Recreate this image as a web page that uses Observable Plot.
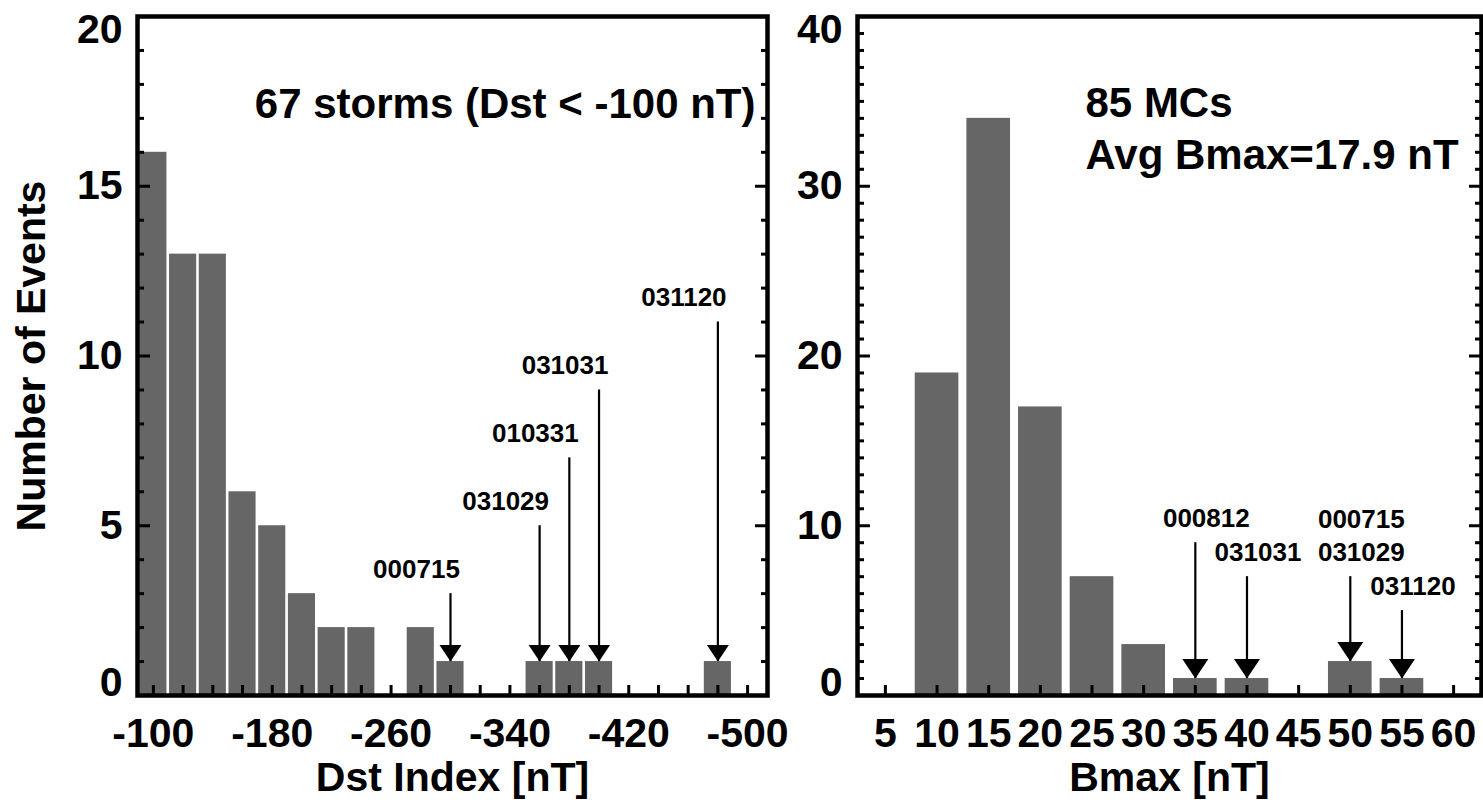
<!DOCTYPE html>
<html><head><meta charset="utf-8">
<script src="https://cdn.jsdelivr.net/npm/d3@7"></script>
<script src="https://cdn.jsdelivr.net/npm/@observablehq/plot@0.6"></script>
<style>
body{margin:0;background:#fff;}
#wrap{position:relative;width:1483px;height:803px;overflow:hidden;background:#fff;}
#left,#right{position:absolute;top:0;}
#left{left:0;z-index:2;} #right{left:780px;z-index:1;}
svg{overflow:visible;}
</style></head><body><div id="wrap"><div id="left"></div><div id="right"></div></div>
<script>
// ---- Left panel: Dst index histogram ----
const dstBins = [-100,-120,-140,-160,-180,-200,-220,-240,-260,-280,-300,-320,-340,-360,-380,-400,-420,-440,-460,-480,-500];
const dstCounts = [16,13,13,6,5,3,2,2,0,2,1,0,0,1,1,1,0,0,0,1,0];
const dstTickLabels = [-100,-180,-260,-340,-420,-500];
const dstYTicks = [0,5,10,15,20];
const dstEvents = ["000715","031029","010331","031031","031120"];
const dstEventValues = [-300,-360,-380,-400,-480];
const dstArrowTops = [3,5,7,9,11];
const dstArrowTips = [1,1,1,1,1];

// ---- Right panel: Bmax histogram ----
const bBins = [5,10,15,20,25,30,35,40,45,50,55,60];
const bCounts = [0,19,34,17,7,3,1,1,0,2,1,0];
const bYTicks = [0,10,20,30,40];
const bEvents = ["000812","031031","000715\n031029","031120"];
const bEventValues = [35,40,50,55];
const bArrowTops = [9,7,7,5];
const bArrowTips = [1,1,2,1];

const FONT = "'Liberation Sans', Arial, Helvetica, sans-serif";
const BAR = "#666666";

const triangle = {draw(ctx, size) {
  const r = Math.sqrt(size / Math.PI);
  ctx.moveTo(0, 0); ctx.lineTo(-r, -1.5 * r); ctx.lineTo(r, -1.5 * r); ctx.closePath();
}};

function yTickMarks(all, majors, minorLen, majorLen) {
  const minors = all.filter(v => !majors.includes(v));
  const o = {fill: "none", label: null, strokeWidth: 3};
  return [
    Plot.axisY({...o, anchor: "left", ticks: minors, tickSize: minorLen, dx: minorLen}),
    Plot.axisY({...o, anchor: "left", ticks: majors, tickSize: majorLen, dx: majorLen}),
    Plot.axisY({...o, anchor: "right", ticks: minors, tickSize: minorLen, dx: -minorLen}),
    Plot.axisY({...o, anchor: "right", ticks: majors, tickSize: majorLen, dx: -majorLen})
  ];
}
function yTickLabels(ticks) {
  const o = {anchor: "left", tickSize: 0, tickPadding: 15, label: null, fontSize: 41, fontWeight: "bold", tickFormat: d => String(d)};
  const mid = ticks.slice(1, -1);
  return [
    Plot.axisY({...o, ticks: mid}),
    Plot.axisY({...o, ticks: [ticks[0]], dy: -13}),
    Plot.axisY({...o, ticks: [ticks[ticks.length - 1]], dy: 13})
  ];
}

// ---------- Left plot ----------
const dstData = dstBins.map((c, i) => ({c, n: dstCounts[i]})).filter(d => d.n > 0);
const dstAnn = dstEvents.map((name, i) => ({name, x: dstEventValues[i], top: dstArrowTops[i], tip: dstArrowTips[i]}));

const left = Plot.plot({
  width: 780, height: 803,
  marginLeft: 137, marginRight: 13, marginTop: 16, marginBottom: 108,
  style: {fontFamily: FONT, background: "transparent", color: "#000"},
  x: {domain: [-89.3, -513.4], axis: null},
  y: {domain: [0, 20], axis: null},
  marks: [
    Plot.rectY(dstData, {x1: d => d.c + 10, x2: d => d.c - 10, y: "n", fill: BAR, insetLeft: 1.3, insetRight: 1.3}),
    ...yTickMarks(d3.range(0, 21), [5, 10, 15], 7, 13),
    Plot.axisX({anchor: "bottom", ticks: dstBins, tickSize: 10, dy: -10, fill: "none", label: null, strokeWidth: 3}),
    Plot.axisX({anchor: "bottom", ticks: dstTickLabels, tickSize: 0, tickPadding: 0, lineAnchor: "middle", dy: 38,
      label: null, fontSize: 41, fontWeight: "bold", tickFormat: d => String(d)}),
    ...yTickLabels(dstYTicks),
    Plot.ruleX(dstAnn, {x: "x", y1: "top", y2: "tip", stroke: "#000", strokeWidth: 2.2}),
    Plot.dot(dstAnn, {x: "x", y: "tip", symbol: triangle, r: 11, fill: "#000", stroke: "none"}),
    Plot.text(dstAnn, {x: "x", y: "top", text: "name", dx: -34, dy: -16, lineAnchor: "bottom", fontSize: 26, fontWeight: "bold", fill: "#000"}),
    Plot.text(["67 storms (Dst < -100 nT)"], {frameAnchor: "top-right", textAnchor: "end", lineAnchor: "bottom", dx: -12, dy: 101, fontSize: 42, fontWeight: "bold", fill: "#000"}),
    Plot.text(["Dst Index [nT]"], {frameAnchor: "bottom", textAnchor: "middle", lineAnchor: "middle", dy: 82, fontSize: 41, fontWeight: "bold", fill: "#000"}),
    Plot.text(["Number of Events"], {frameAnchor: "left", textAnchor: "middle", lineAnchor: "middle", rotate: -90, dx: -106, fontSize: 41, fontWeight: "bold", fill: "#000"}),
    Plot.frame({stroke: "#000", strokeWidth: 4.5})
  ]
});
document.getElementById("left").appendChild(left);

// ---------- Right plot ----------
const bData = bBins.map((c, i) => ({c, n: bCounts[i]})).filter(d => d.n > 0);
const bAnn = bEvents.map((name, i) => ({name, x: bEventValues[i], top: bArrowTops[i], tip: bArrowTips[i]}));

const right = Plot.plot({
  width: 703, height: 803,
  marginLeft: 77, marginRight: 2, marginTop: 16, marginBottom: 108,
  style: {fontFamily: FONT, background: "transparent", color: "#000"},
  x: {domain: [2.3, 62.7], axis: null},
  y: {domain: [0, 40], axis: null},
  marks: [
    Plot.rectY(bData, {x1: d => d.c - 2.5, x2: d => d.c + 2.5, y: "n", fill: BAR, insetLeft: 4, insetRight: 4}),
    ...yTickMarks(d3.range(0, 41), [10, 20, 30], 7, 13),
    Plot.axisX({anchor: "bottom", ticks: bBins, tickSize: 10, dy: -10, fill: "none", label: null, strokeWidth: 3}),
    Plot.axisX({anchor: "bottom", ticks: bBins, tickSize: 0, tickPadding: 0, lineAnchor: "middle", dy: 38,
      label: null, fontSize: 41, fontWeight: "bold", tickFormat: d => String(d)}),
    ...yTickLabels(bYTicks),
    Plot.ruleX(bAnn, {x: "x", y1: "top", y2: "tip", stroke: "#000", strokeWidth: 2.2}),
    Plot.dot(bAnn, {x: "x", y: "tip", symbol: triangle, r: 13, fill: "#000", stroke: "none"}),
    Plot.text(bAnn, {x: "x", y: "top", text: "name", dx: 11, dy: -16, lineAnchor: "bottom", lineHeight: 1.27, fontSize: 26, fontWeight: "bold", fill: "#000"}),
    Plot.text(["85 MCs"], {frameAnchor: "top-left", textAnchor: "start", lineAnchor: "bottom", dx: 228, dy: 100, fontSize: 42, fontWeight: "bold", fill: "#000"}),
    Plot.text(["Avg Bmax=17.9 nT"], {frameAnchor: "top-left", textAnchor: "start", lineAnchor: "bottom", dx: 228, dy: 152, fontSize: 42, fontWeight: "bold", fill: "#000"}),
    Plot.text(["Bmax [nT]"], {frameAnchor: "bottom", textAnchor: "middle", lineAnchor: "middle", dy: 82, fontSize: 41, fontWeight: "bold", fill: "#000"}),
    Plot.frame({stroke: "#000", strokeWidth: 4.5})
  ]
});
document.getElementById("right").appendChild(right);
</script>
</body></html>
